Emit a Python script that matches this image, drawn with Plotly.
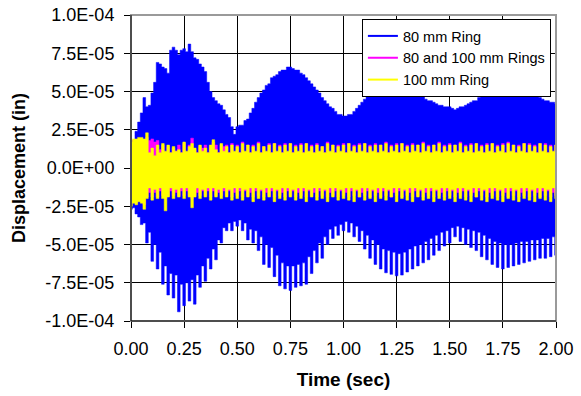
import numpy as np
import plotly.graph_objects as go

# Sample grid (s): one min/max pair of the displacement trace every 12.5 ms
DT = 0.0125
time_s = np.round(np.arange(161) * DT, 4)

# Per-sample maxima / minima, in units of 1e-5 in
ring80_max = [
    1.0, 1.8, 2.4, 3.0, 3.6, 4.6, 4.0, 4.1, 4.9, 5.6,
    6.9, 6.8, 6.6, 6.5, 6.2, 7.7, 7.9, 7.7, 7.4, 7.7,
    7.8, 7.6, 8.1, 7.6, 7.2, 7.1, 6.8, 6.6, 6.3, 5.6,
    5.0, 4.6, 4.4, 4.2, 4.1, 3.8, 3.5, 3.3, 2.7, 2.2,
    2.7, 2.8, 2.8, 3.1, 3.2, 3.6, 3.9, 4.3, 4.6, 4.9,
    5.1, 5.4, 5.5, 5.9, 6.0, 6.1, 6.3, 6.4, 6.4, 6.6,
    6.6, 6.5, 6.4, 6.4, 6.2, 6.1, 5.9, 5.7, 5.5, 5.3,
    5.1, 4.9, 4.6, 4.4, 4.2, 4.0, 3.9, 3.7, 3.5, 3.5,
    3.4, 3.4, 3.5, 3.5, 3.7, 3.9, 4.1, 4.3, 4.5, 4.7,
    4.9, 5.1, 5.2, 5.3, 5.4, 5.5, 5.5, 5.6, 5.6, 5.7,
    5.7, 5.7, 5.6, 5.5, 5.4, 5.3, 5.2, 5.1, 5.0, 4.8,
    4.7, 4.5, 4.4, 4.4, 4.3, 4.2, 4.1, 4.1, 4.0, 4.0,
    4.0, 3.9, 3.8, 3.9, 4.0, 4.0, 4.1, 4.2, 4.3, 4.4,
    4.4, 4.6, 4.7, 4.8, 4.9, 5.0, 5.1, 5.1, 5.2, 5.2,
    5.2, 5.2, 5.2, 5.1, 5.1, 5.1, 5.0, 5.0, 5.0, 4.9,
    4.9, 4.8, 4.8, 4.7, 4.6, 4.5, 4.4, 4.4, 4.3, 4.3,
    4.2,
]
ring80_min = [
    -2.7, -2.6, -3.0, -3.2, -3.7, -3.6, -4.9, -4.2, -6.1, -5.0,
    -6.6, -5.5, -7.6, -6.4, -8.3, -6.9, -8.5, -7.0, -9.4, -7.6,
    -9.0, -7.5, -8.7, -7.3, -8.9, -7.0, -7.8, -6.4, -7.4, -5.9,
    -6.6, -5.3, -6.0, -4.7, -4.9, -3.9, -4.1, -3.6, -4.1, -3.5,
    -3.8, -3.4, -4.1, -3.6, -4.7, -4.0, -4.9, -4.1, -5.4, -4.5,
    -6.3, -5.0, -6.5, -5.2, -7.1, -5.7, -7.7, -6.2, -7.9, -6.4,
    -8.0, -6.4, -7.8, -6.3, -7.7, -6.2, -7.6, -5.8, -6.9, -5.4,
    -6.2, -4.9, -5.9, -4.5, -5.0, -4.0, -4.6, -3.8, -4.4, -3.7,
    -4.1, -3.5, -4.2, -3.6, -4.5, -3.8, -4.8, -4.1, -5.3, -4.4,
    -5.9, -4.7, -6.3, -5.0, -6.6, -5.3, -6.85, -5.4, -6.95, -5.5,
    -7.05, -5.6, -7.0, -5.5, -6.8, -5.3, -6.6, -5.1, -6.4, -5.0,
    -6.2, -4.8, -6.0, -4.6, -5.7, -4.4, -5.4, -4.2, -5.1, -4.1,
    -4.9, -3.9, -4.5, -3.8, -4.8, -3.9, -5.0, -4.0, -5.2, -4.1,
    -5.4, -4.2, -5.8, -4.4, -6.0, -4.6, -6.3, -4.8, -6.5, -4.9,
    -6.6, -5.0, -6.5, -5.0, -6.4, -4.9, -6.3, -4.8, -6.2, -4.8,
    -6.1, -4.7, -6.0, -4.7, -5.9, -4.6, -5.9, -4.6, -5.8, -4.5,
    -5.7,
]
both_max = [
    1.6, 1.8, 1.8, 1.9, 1.9, 1.8, 2.0, 1.8, 1.9, 1.7,
    1.8, 1.2, 1.5, 1.0, 1.4, 1.0, 1.3, 1.1, 1.5, 1.0,
    1.6, 1.0, 1.5, 1.95, 1.2, 1.0, 1.4, 1.3, 1.5, 1.0,
    1.4, 1.7, 1.5, 1.0, 1.5, 1.4, 1.5, 1.0, 1.6, 1.0,
    1.5, 1.0, 1.7, 1.0, 1.5, 1.0, 1.5, 1.0, 1.7, 1.0,
    1.4, 1.0, 1.6, 1.0, 1.6, 1.0, 1.5, 1.0, 1.6, 1.0,
    1.6, 1.0, 1.5, 1.0, 1.6, 1.0, 1.6, 1.0, 1.5, 1.0,
    1.6, 1.0, 1.4, 1.0, 1.7, 1.0, 1.5, 1.0, 1.5, 1.0,
    1.6, 1.0, 1.6, 1.0, 1.5, 1.0, 1.6, 1.0, 1.6, 1.0,
    1.5, 1.0, 1.6, 1.0, 1.5, 1.0, 1.7, 1.0, 1.5, 1.0,
    1.6, 1.0, 1.6, 1.0, 1.5, 1.0, 1.6, 1.0, 1.5, 1.0,
    1.7, 1.0, 1.5, 1.0, 1.5, 1.0, 1.7, 1.0, 1.5, 1.0,
    1.6, 1.0, 1.5, 1.0, 1.7, 1.0, 1.5, 1.0, 1.6, 1.0,
    1.6, 1.0, 1.5, 1.0, 1.6, 1.0, 1.6, 1.0, 1.5, 1.0,
    1.6, 1.0, 1.7, 1.0, 1.5, 1.0, 1.5, 1.0, 1.6, 1.0,
    1.6, 1.0, 1.5, 1.0, 1.6, 1.0, 1.6, 1.0, 1.5, 1.0,
    1.5,
]
both_min = [
    -2.3, -2.2, -2.3, -2.1, -2.2, -2.4, -1.9, -1.6, -1.9, -1.6,
    -1.9, -1.5, -1.8, -2.0, -1.8, -1.5, -1.8, -1.6, -1.8, -1.5,
    -1.8, -1.5, -1.8, -2.0, -1.8, -1.6, -1.8, -1.5, -1.8, -1.5,
    -1.9, -1.5, -1.8, -1.6, -1.8, -1.5, -1.8, -1.5, -1.9, -1.6,
    -1.8, -1.5, -1.9, -1.5, -1.8, -1.6, -1.9, -1.5, -1.8, -1.5,
    -1.9, -1.6, -1.8, -1.5, -1.9, -1.5, -1.8, -1.6, -1.9, -1.5,
    -1.8, -1.5, -1.9, -1.6, -1.8, -1.5, -1.9, -1.5, -1.8, -1.6,
    -1.9, -1.5, -1.8, -1.5, -1.9, -1.6, -1.8, -1.5, -1.9, -1.5,
    -1.8, -1.6, -1.9, -1.5, -1.8, -1.5, -1.9, -1.6, -1.8, -1.5,
    -1.9, -1.5, -1.8, -1.6, -1.9, -1.5, -1.8, -1.5, -1.9, -1.6,
    -1.8, -1.5, -1.9, -1.5, -1.8, -1.6, -1.9, -1.5, -1.8, -1.5,
    -1.9, -1.6, -1.8, -1.5, -1.9, -1.5, -1.8, -1.6, -1.9, -1.5,
    -1.8, -1.5, -1.9, -1.6, -1.8, -1.5, -1.9, -1.5, -1.8, -1.6,
    -1.9, -1.5, -1.8, -1.5, -1.9, -1.6, -1.8, -1.5, -1.9, -1.5,
    -1.8, -1.6, -1.9, -1.5, -1.8, -1.5, -1.9, -1.6, -1.8, -1.5,
    -1.9, -1.5, -1.8, -1.6, -1.9, -1.5, -1.8, -1.5, -1.9, -1.6,
    -1.8,
]
ring100_max = [
    1.7, 1.9, 1.9, 2.0, 2.0, 1.9, 2.3, 1.0, 1.3, 0.8,
    1.5, 1.0, 1.6, 1.1, 1.5, 1.0, 1.4, 1.1, 1.2, 1.0,
    1.7, 1.1, 1.4, 1.6, 1.3, 1.0, 1.5, 1.1, 1.3, 1.0,
    1.5, 1.85, 1.2, 1.0, 1.6, 1.1, 1.4, 1.0, 1.5, 1.1,
    1.4, 1.0, 1.6, 1.1, 1.5, 1.0, 1.4, 1.1, 1.6, 1.0,
    1.4, 1.1, 1.5, 1.0, 1.6, 1.1, 1.4, 1.0, 1.5, 1.1,
    1.6, 1.0, 1.4, 1.1, 1.5, 1.0, 1.6, 1.1, 1.4, 1.0,
    1.5, 1.1, 1.4, 1.0, 1.6, 1.1, 1.5, 1.0, 1.4, 1.1,
    1.5, 1.0, 1.6, 1.1, 1.4, 1.0, 1.5, 1.1, 1.6, 1.0,
    1.4, 1.1, 1.5, 1.0, 1.5, 1.1, 1.6, 1.0, 1.4, 1.1,
    1.5, 1.0, 1.6, 1.1, 1.4, 1.0, 1.5, 1.1, 1.5, 1.0,
    1.6, 1.1, 1.4, 1.0, 1.5, 1.1, 1.6, 1.0, 1.4, 1.1,
    1.5, 1.0, 1.5, 1.1, 1.6, 1.0, 1.4, 1.1, 1.5, 1.0,
    1.6, 1.1, 1.4, 1.0, 1.5, 1.1, 1.6, 1.0, 1.4, 1.1,
    1.5, 1.0, 1.6, 1.1, 1.5, 1.0, 1.4, 1.1, 1.6, 1.0,
    1.5, 1.1, 1.4, 1.0, 1.6, 1.1, 1.5, 1.0, 1.4, 1.1,
    1.5,
]
ring100_min = [
    -2.5, -2.3, -2.4, -2.2, -2.3, -2.7, -2.0, -1.3, -2.1, -1.4,
    -2.0, -1.3, -2.0, -2.8, -1.9, -1.3, -2.0, -1.4, -1.9, -1.3,
    -2.0, -1.3, -1.9, -2.6, -1.9, -1.3, -2.0, -1.4, -1.9, -1.3,
    -2.1, -1.3, -1.9, -1.4, -2.0, -1.3, -1.9, -1.4, -2.1, -1.3,
    -2.0, -1.3, -2.1, -1.4, -1.9, -1.3, -2.2, -1.3, -2.0, -1.4,
    -2.1, -1.3, -1.9, -1.3, -2.2, -1.4, -2.0, -1.3, -2.1, -1.3,
    -1.9, -1.4, -2.1, -1.3, -2.0, -1.3, -2.2, -1.4, -1.9, -1.3,
    -2.1, -1.3, -2.0, -1.4, -2.2, -1.3, -1.9, -1.3, -2.1, -1.4,
    -2.0, -1.3, -2.1, -1.3, -2.2, -1.4, -1.9, -1.3, -2.1, -1.3,
    -2.0, -1.4, -2.2, -1.3, -2.0, -1.3, -2.1, -1.4, -1.9, -1.3,
    -2.2, -1.3, -2.0, -1.4, -2.1, -1.3, -2.2, -1.3, -1.9, -1.4,
    -2.1, -1.3, -2.0, -1.3, -2.2, -1.4, -2.0, -1.3, -2.1, -1.3,
    -2.0, -1.4, -2.2, -1.3, -2.0, -1.3, -2.1, -1.4, -2.2, -1.3,
    -1.9, -1.3, -2.1, -1.4, -2.2, -1.3, -2.0, -1.3, -2.1, -1.4,
    -2.2, -1.3, -2.0, -1.3, -2.1, -1.4, -2.2, -1.3, -2.0, -1.3,
    -2.1, -1.4, -2.2, -1.3, -2.0, -1.3, -2.1, -1.4, -2.2, -1.3,
    -2.0,
]

UNIT = 1e-5  # stored values are in 1e-5 in

series_names = ["80 mm Ring", "80 and 100 mm Rings", "100 mm Ring"]
series_colors = ["#0000FF", "#FF00FF", "#FFFF00"]
series_ranges = [(ring80_min, ring80_max), (both_min, both_max),
                 (ring100_min, ring100_max)]

y_tick_values = [-1.0e-4, -7.5e-5, -5.0e-5, -2.5e-5, 0.0, 2.5e-5, 5.0e-5, 7.5e-5, 1.0e-4]
y_tick_labels = ["-1.0E-04", "-7.5E-05", "-5.0E-05", "-2.5E-05", "0.0E+00",
                 "2.5E-05", "5.0E-05", "7.5E-05", "1.0E-04"]
x_tick_values = [0.0, 0.25, 0.5, 0.75, 1.0, 1.25, 1.5, 1.75, 2.0]


def envelope_outline(t, lows, highs):
    """Closed outline of the band a dense trace covers: each sample owns one
    time cell, filled from its minimum to its maximum."""
    half = DT / 2
    xs, ys = [], []
    for ti, hi in zip(t, highs):
        xs += [ti - half, ti + half]
        ys += [hi * UNIT, hi * UNIT]
    for ti, lo in zip(t[::-1], lows[::-1]):
        xs += [ti + half, ti - half]
        ys += [lo * UNIT, lo * UNIT]
    xs.append(xs[0])
    ys.append(ys[0])
    return xs, ys


FONT = "Liberation Sans, Arial, sans-serif"

fig = go.Figure()
for name, color, (lows, highs) in zip(series_names, series_colors, series_ranges):
    xs, ys = envelope_outline(time_s, lows, highs)
    fig.add_trace(go.Scatter(
        x=xs, y=ys, mode="lines", fill="toself", fillcolor=color,
        line=dict(color=color, width=0.5), legendgroup=name,
        showlegend=False, hoverinfo="skip",
    ))
# Legend keys drawn as short lines
for name, color in zip(series_names, series_colors):
    fig.add_trace(go.Scatter(
        x=[None], y=[None], mode="lines", name=name, legendgroup=name,
        line=dict(color=color, width=2),
    ))

axis_common = dict(
    showgrid=True, gridcolor="#000000", gridwidth=1,
    showline=True, linecolor="#000000", linewidth=1,
    ticks="outside", ticklen=6, tickcolor="#000000",
    zeroline=False, automargin=False,
    tickfont=dict(family=FONT, size=18, color="#000000"),
)

fig.update_layout(
    width=581, height=396,
    margin=dict(l=131, r=25, t=15, b=75),
    paper_bgcolor="#FFFFFF", plot_bgcolor="#FFFFFF",
    font=dict(family=FONT, color="#000000"),
    xaxis=dict(
        range=[0, 2], tickvals=x_tick_values, tickformat=".2f",
        ticklabelstandoff=5,
        title=dict(text="Time (sec)", standoff=15,
                   font=dict(family=FONT, size=19, weight="bold")),
        **axis_common,
    ),
    yaxis=dict(
        range=[-1.0e-4, 1.0e-4], tickvals=y_tick_values, ticktext=y_tick_labels,
        ticklabelstandoff=6,
        title=dict(text="Displacement (in)", standoff=15,
                   font=dict(family=FONT, size=18, weight="bold")),
        **axis_common,
    ),
    legend=dict(
        x=0.988, y=0.987, xanchor="right", yanchor="top",
        bgcolor="#FFFFFF", bordercolor="#000000", borderwidth=1,
        font=dict(family=FONT, size=14.5, color="#000000"),
        tracegroupgap=0, itemwidth=30,
    ),
    showlegend=True,
)

# Grey plot-area frame on the top and right edges
fig.add_shape(type="rect", xref="x domain", yref="y domain", x0=0, x1=1, y0=0, y1=1,
              line=dict(color="#9A9A9A", width=2), layer="above")
# Black axes on the left and bottom
fig.add_shape(type="line", xref="x domain", yref="y domain", x0=0, x1=0, y0=0, y1=1,
              line=dict(color="#000000", width=1), layer="above")
fig.add_shape(type="line", xref="x domain", yref="y domain", x0=0, x1=1, y0=0, y1=0,
              line=dict(color="#000000", width=1), layer="above")

fig.write_html("out.html")
